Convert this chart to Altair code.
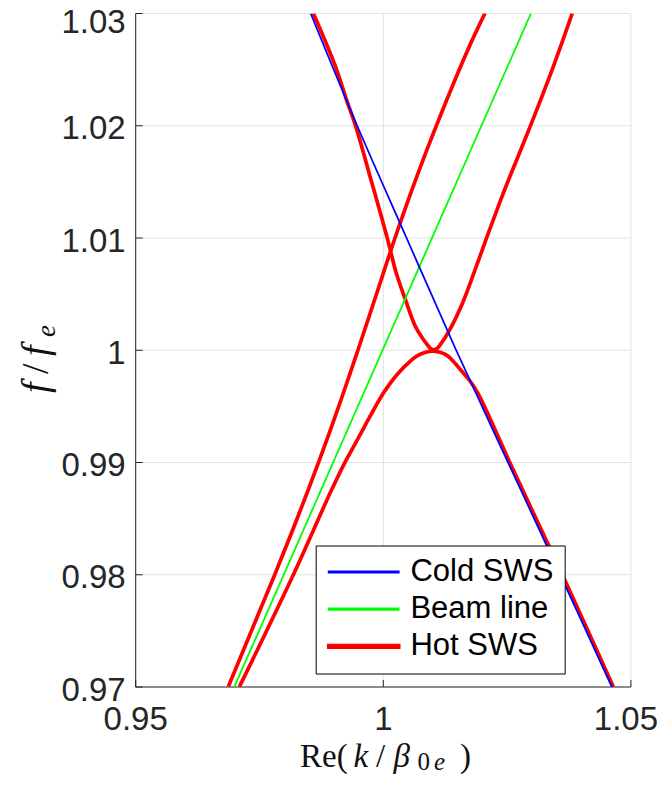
import altair as alt
import pandas as pd

# ---------------- values ----------------
series_names = ["Cold SWS", "Beam line", "Hot SWS"]
series_colors = ["#0000ff", "#00ff00", "#ff0000"]
series_widths = [1.8, 1.8, 3.7]

# Cold SWS (blue)
cold_k = [0.98534, 0.99473, 1.00470, 1.01472, 1.02520, 1.03573, 1.04615]
cold_f = [1.03, 1.02, 1.01, 1.00, 0.99, 0.98, 0.97]

# Beam line (green)
beam_k = [0.9699, 1.0298]
beam_f = [0.97, 1.03]

# Hot SWS (red) - fast branch
fast_k = [1.02054, 1.01797, 1.01561, 1.01280, 1.01072, 1.00880, 1.00652, 1.00505,
          1.00339, 1.00155, 1.00022, 0.99956, 0.99487, 0.99283, 0.99122, 0.98907,
          0.98685, 0.98483, 0.98170, 0.97805, 0.97344, 0.96870]
fast_f = [1.03003, 1.02765, 1.02527, 1.02230, 1.02001, 1.01785, 1.01517, 1.01339,
          1.01132, 1.00894, 1.00716, 1.00626, 1.00000, 0.99735, 0.99528, 0.99260,
          0.98993, 0.98755, 0.98399, 0.97998, 0.97508, 0.97003]

# Hot SWS (red) - upper U branch
upper_k = [0.98586, 0.99035, 0.99257, 0.99439, 0.99762, 0.99867, 1.00079, 1.00141,
           1.00242, 1.00307, 1.00448, 1.00650, 1.00792, 1.00893, 1.00963, 1.01014,
           1.01084, 1.01155, 1.01321, 1.01599, 1.01852, 1.02084, 1.02371, 1.02528,
           1.02973, 1.03433, 1.03817]
upper_f = [1.03003, 1.02527, 1.02230, 1.02001, 1.01502, 1.01339, 1.01001, 1.00894,
           1.00716, 1.00626, 1.00448, 1.00210, 1.00107, 1.00047, 1.00013, 1.00003,
           1.00016, 1.00052, 1.00166, 1.00419, 1.00716, 1.00998, 1.01339, 1.01517,
           1.02001, 1.02527, 1.03003]

# Hot SWS (red) - lower inverted-U branch
lower_k = [0.97096, 0.98181, 0.98954, 0.99216, 0.99364, 0.99546, 0.99748, 1.00000,
           1.00271, 1.00574, 1.00701, 1.00842, 1.00998, 1.01145, 1.01286, 1.01408,
           1.01529, 1.01650, 1.01751, 1.01912, 1.02169, 1.02559, 1.03352, 1.03619,
           1.04645]
lower_f = [0.97003, 0.97998, 0.98755, 0.98993, 0.99112, 0.99260, 0.99424, 0.99617,
           0.99780, 0.99914, 0.99954, 0.99980, 0.99992, 0.99982, 0.99954, 0.99905,
           0.99842, 0.99780, 0.99726, 0.99615, 0.99379, 0.98996, 0.98250, 0.97998,
           0.97003]

x_domain = [0.95, 1.05]
y_domain = [0.97, 1.03]
x_ticks = [0.95, 1.0, 1.05]
x_labels = ["0.95", "1", "1.05"]
y_ticks = [0.97, 0.98, 0.99, 1.0, 1.01, 1.02, 1.03]
y_labels = ["0.97", "0.98", "0.99", "1", "1.01", "1.02", "1.03"]

# ---------------- tables ----------------
def branch_table(ks, fs, series, branch):
    return pd.DataFrame({"k": ks, "f": fs, "series": series,
                         "branch": branch, "i": list(range(len(ks)))})

df_cold = branch_table(cold_k, cold_f, "Cold SWS", "cold")
df_beam = branch_table(beam_k, beam_f, "Beam line", "beam")
df_hot = pd.concat([
    branch_table(fast_k, fast_f, "Hot SWS", "fast"),
    branch_table(upper_k, upper_f, "Hot SWS", "upper"),
    branch_table(lower_k, lower_f, "Hot SWS", "lower"),
], ignore_index=True)
df_xt = pd.DataFrame({"v": x_ticks, "lab": x_labels})
df_yt = pd.DataFrame({"v": y_ticks, "lab": y_labels})
df_frame = pd.DataFrame({"x0": [x_domain[0]], "x1": [x_domain[1]],
                         "y0": [y_domain[0]], "y1": [y_domain[1]]})

W, H = 495.2, 673.5
FONT = "Liberation Sans"
SERIF = "Liberation Serif"
AXC = "#262626"
GRID = "#e2e2e2"

xs = alt.Scale(domain=x_domain, nice=False, zero=False)
ys = alt.Scale(domain=y_domain, nice=False, zero=False)

legend = alt.Legend(title=None, orient="none", legendX=180, legendY=532,
                    direction="vertical", symbolType="M-1,-0.02H1V0.02H-1Z",
                    symbolSize=4900, labelFont=FONT, labelFontSize=31,
                    labelColor="black", labelOffset=9.7, padding=11, rowPadding=5.2,
                    clipHeight=31, strokeColor="black", fillColor="white",
                    labelLimit=400)

color_enc = alt.Color("series:N", scale=alt.Scale(domain=series_names, range=series_colors),
                      legend=legend)
width_enc = alt.StrokeWidth("series:N",
                            scale=alt.Scale(type="ordinal", domain=series_names,
                                            range=series_widths),
                            legend=legend)


def line_layer(df, interp):
    return alt.Chart(df).mark_line(interpolate=interp, clip=True).encode(
        x=alt.X("k:Q", scale=xs, axis=None),
        y=alt.Y("f:Q", scale=ys, axis=None),
        color=color_enc,
        strokeWidth=width_enc,
        detail="branch:N",
        order="i:Q",
    )


# grid lines
grid_x = alt.Chart(df_xt).mark_rule(color=GRID, strokeWidth=1).encode(
    x=alt.X("v:Q", scale=xs, axis=None), y=alt.value(0), y2=alt.value(H))
grid_y = alt.Chart(df_yt).mark_rule(color=GRID, strokeWidth=1).encode(
    y=alt.Y("v:Q", scale=ys, axis=None), x=alt.value(0), x2=alt.value(W))

# axis lines (left and bottom)
axis_x = alt.Chart(df_frame).mark_rule(color=AXC, strokeWidth=1).encode(
    x=alt.X("x0:Q", scale=xs, axis=None), x2="x1:Q",
    y=alt.Y("y0:Q", scale=ys, axis=None))
axis_y = alt.Chart(df_frame).mark_rule(color=AXC, strokeWidth=1).encode(
    x=alt.X("x0:Q", scale=xs, axis=None),
    y=alt.Y("y0:Q", scale=ys, axis=None), y2="y1:Q")

# inward tick marks
xt = alt.Chart(df_xt).mark_rule(color=AXC, strokeWidth=1).encode(
    x=alt.X("v:Q", scale=xs, axis=None), y=alt.value(H), y2=alt.value(H - 7))
yt = alt.Chart(df_yt).mark_rule(color=AXC, strokeWidth=1).encode(
    y=alt.Y("v:Q", scale=ys, axis=None), x=alt.value(0), x2=alt.value(7))


# tick labels
def xlab(filt, dx):
    return alt.Chart(df_xt).transform_filter(filt).mark_text(
        font=FONT, fontSize=33, color=AXC, align="center", baseline="alphabetic",
        dy=43, dx=dx).encode(
        x=alt.X("v:Q", scale=xs, axis=None), y=alt.value(H), text="lab:N")


def ylab(filt, dy):
    return alt.Chart(df_yt).transform_filter(filt).mark_text(
        font=FONT, fontSize=33, color=AXC, align="right", baseline="alphabetic",
        dy=dy).encode(
        y=alt.Y("v:Q", scale=ys, axis=None), x=alt.value(-10), text="lab:N")


tick_labels = [xlab("datum.v < 1.04", 0), xlab("datum.v > 1.04", -5),
               ylab("datum.v < 1.025", 13.5), ylab("datum.v > 1.025", 19.5)]


def txt(s, x, y, size, style="normal", angle=0):
    return alt.Chart(pd.DataFrame({"t": [s]})).mark_text(
        font=SERIF, fontSize=size, fontStyle=style, align="left",
        baseline="alphabetic", angle=angle, color="#111111"
    ).encode(text="t:N", x=alt.value(x), y=alt.value(y))


# x title: Re(k/β0e)
XB, XS = 753.5, 756.0
xtitle = [
    txt("Re(", 164.3, XB, 33),
    txt("k", 217.9, XB, 33, "italic"),
    txt("/", 240.3, XB, 33),
    txt("β", 257.8, XB, 33, "italic"),
    txt("0", 281.8, XS, 25),
    txt("e", 298.3, XS, 25, "italic"),
    txt(")", 324.3, XB, 33),
]
# y title: f/fe (rotated)
ytitle = [
    txt("f", -88.2, 379.5, 38, "italic", 270),
    txt("/", -88.2, 360.5, 38, "normal", 270),
    txt("f", -88.2, 342.5, 38, "italic", 270),
    txt("e", -80.7, 323.5, 27, "italic", 270),
]

chart = alt.layer(
    grid_x, grid_y, axis_x, axis_y,
    line_layer(df_hot, "catmull-rom"),
    line_layer(df_beam, "linear"),
    line_layer(df_cold, "catmull-rom"),
    xt, yt, *tick_labels, *xtitle, *ytitle,
).properties(
    width=W, height=H,
    autosize=alt.AutoSizeParams(type="none"),
    padding={"left": 127.7, "top": 5.5, "right": 28.1, "bottom": 88},
).configure_view(stroke=None)

chart.save("out.html", embed_options={"renderer": "svg", "actions": False})
